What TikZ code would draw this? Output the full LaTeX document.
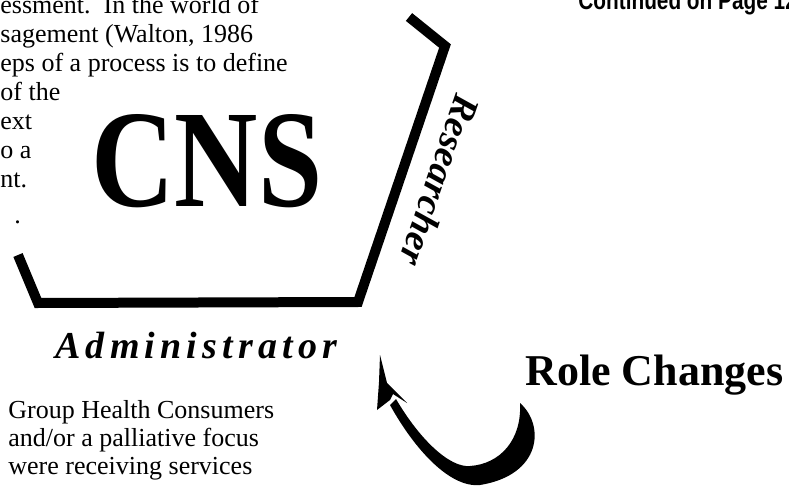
\documentclass[tikz,border=0pt]{standalone}
\usepackage{fontspec}
\setmainfont{Liberation Serif}
\setsansfont{Liberation Sans}
\makeatletter
\newcommand\spreadword[1]{\lsp@step#1\@nil}
\def\lsp@step#1{\ifx#1\@nil\else#1\kern2.6pt\expandafter\lsp@step\fi}
\makeatother
\tikzset{
  frame/.style={line width=5pt, line join=miter},
  body/.style={inner sep=0pt, anchor=base west, font=\fontsize{13}{14.5}\selectfont},
  role/.style={inner sep=0pt, font=\bfseries\itshape\fontsize{19}{22}\selectfont},
}
\begin{document}
\begin{tikzpicture}[x=0.5pt,y=-0.5pt]
    \useasboundingbox (0,0) rectangle (789,487);
    \foreach \t [count=\i from 0] in {essment.~~In the world of, {sagement (Walton, 1986}, eps of a process is to define, of the, ext, o a, nt.}
        \node[body] (para\i) at (0,{13+29*\i}) {\t};
    \node[body] (dot) at (14,223) {.};
    \node[inner sep=0pt, anchor=base, font=\bfseries\fontsize{69.5}{70}\selectfont] (cns) at (207,206) {\scalebox{0.83}[1]{CNS}};
    \draw[frame] (18,255) -- (38,303) -- (358,302) -- (445,46) -- (409,17);
    \node[role, rotate=-109] (res) at (440,181) {Researcher};
    \node[role, anchor=base] (adm) at (199,358) {\spreadword{Administrator}};
    \foreach \t [count=\i from 0] in {Group Health Consumers, and/or a palliative focus, were receiving services}
        \node[body] (grp\i) at (8,{418+28*\i}) {\t};
    \node[inner sep=0pt, anchor=base west, font=\bfseries\fontsize{22}{24}\selectfont] (chg) at (525,385) {Role Changes};
    \node[inner sep=0pt, anchor=base west, font=\sffamily\bfseries\fontsize{13}{14}\selectfont] (cont) at (578,10) {\scalebox{0.8}[1]{Continued on Page 12}};
    \coordinate (tail) at (520,403);
    \coordinate (tip) at (380,355);
    \fill (tail) .. controls (545,425) and (542,475) .. (480,485) .. controls (450,488) and (415,450) .. (390,405)
        -- (396,399) .. controls (420,440) and (450,468) .. (470,466) .. controls (500,464) and (522,440) .. (tail) -- cycle;
    \fill (tip) -- (387,383) -- (407,403) -- (393,394) -- (390,400) -- (377,410) -- (379,382) -- cycle;
\end{tikzpicture}
\end{document}
